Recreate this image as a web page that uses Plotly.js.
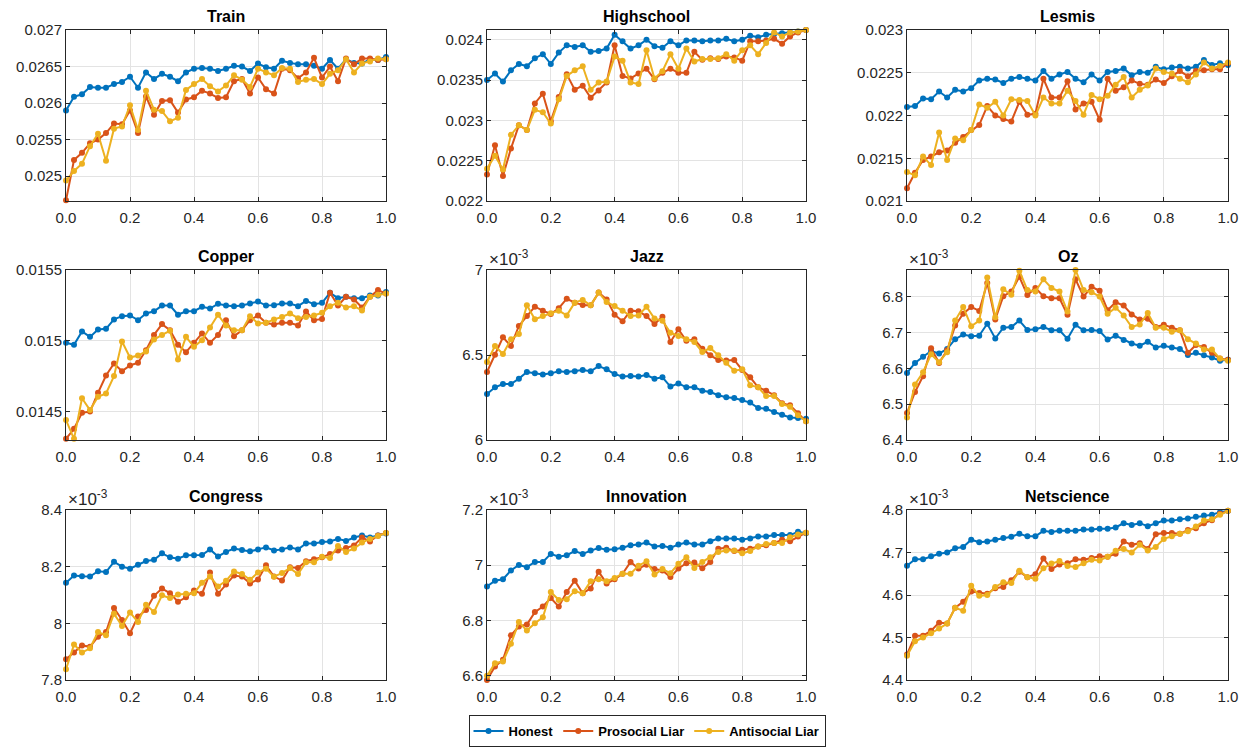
<!DOCTYPE html>
<html>
<head>
<meta charset="utf-8">
<script src="https://cdn.plot.ly/plotly-3.0.1.min.js"></script>
<style>
  html, body { margin: 0; padding: 0; background: #fff; }
  #chart { width: 1249px; height: 753px; }
</style>
</head>
<body>
<div id="chart"></div>
<script>
// shared x grid (fraction of liars)
var xGrid = [0,0.025,0.05,0.075,0.1,0.125,0.15,0.175,0.2,0.225,0.25,0.275,0.3,0.325,0.35,0.375,
  0.4,0.425,0.45,0.475,0.5,0.525,0.55,0.575,0.6,0.625,0.65,0.675,0.7,0.725,0.75,0.775,
  0.8,0.825,0.85,0.875,0.9,0.925,0.95,0.975,1];
var xTicks = [0, 0.2, 0.4, 0.6, 0.8, 1];
var seriesNames = ['Honest', 'Prosocial Liar', 'Antisocial Liar'];
var seriesColors = ['#0072BD', '#D95319', '#EDB120'];

// Train
var trainHonest = [0.02590,0.026087,0.02612,0.02622,0.02621,0.02621,0.02626,0.02629,0.02636,0.02621,0.02642,
  0.02633,0.02640,0.02636,0.02630,0.02642,0.02647,0.02648,0.02647,0.02644,0.02647,0.02651,0.02650,0.02644,
  0.02654,0.02649,0.02647,0.02658,0.02655,0.02653,0.02653,0.02651,0.02647,0.02659,0.02647,0.02660,0.02655,
  0.02654,0.02660,0.02659,0.02663];
var trainPro = [0.02467,0.02522,0.02532,0.02545,0.02550,0.02559,0.02572,0.02571,0.02590,0.02559,0.02609,
  0.02584,0.02603,0.02604,0.02587,0.02605,0.02608,0.02617,0.02613,0.02607,0.02608,0.02630,0.02633,0.02613,
  0.02635,0.02619,0.02613,0.02647,0.02645,0.02634,0.02642,0.02662,0.02635,0.02650,0.02630,0.02661,0.02653,
  0.02661,0.02661,0.02659,0.02660];
var trainAnti = [0.02494,0.02507,0.02517,0.02541,0.02558,0.02521,0.02565,0.02568,0.02597,0.02563,0.02617,
  0.02591,0.02589,0.02575,0.02580,0.02618,0.02626,0.02633,0.02623,0.02616,0.02624,0.02638,0.02632,0.02622,
  0.02647,0.02642,0.02638,0.02648,0.02647,0.02629,0.02632,0.02633,0.02626,0.02640,0.02645,0.02660,0.02642,
  0.02654,0.02657,0.02661,0.02660];
var trainTicks = [0.025, 0.0255, 0.026, 0.0265, 0.027];

// Highschool
var highHonest = [0.02350,0.02358,0.02348,0.02362,0.02370,0.02367,0.02377,0.02382,0.02370,0.02384,0.02393,
  0.02391,0.02393,0.02385,0.02386,0.02389,0.02406,0.02398,0.02389,0.02393,0.02400,0.02392,0.02390,0.02398,
  0.02393,0.02399,0.02399,0.02398,0.02399,0.02399,0.02401,0.02398,0.02400,0.02405,0.02403,0.02406,0.02407,
  0.02408,0.02409,0.02410,0.02412];
var highPro = [0.02233,0.02269,0.02231,0.02265,0.02294,0.02288,0.02321,0.02333,0.02299,0.02329,0.02357,
  0.02338,0.02343,0.02328,0.02337,0.02347,0.02393,0.02355,0.02352,0.02358,0.02364,0.02351,0.02359,0.02364,
  0.02359,0.02359,0.02385,0.02375,0.02377,0.02376,0.02379,0.02378,0.02374,0.02398,0.02398,0.02399,0.02401,
  0.02395,0.02404,0.02409,0.02412];
var highAnti = [0.02240,0.02256,0.02239,0.02282,0.02294,0.02288,0.02313,0.02310,0.02296,0.02326,0.02355,
  0.02362,0.02367,0.02338,0.02347,0.02348,0.02379,0.02374,0.02347,0.02345,0.02387,0.02352,0.02361,0.02382,
  0.02364,0.02389,0.02373,0.02376,0.02376,0.02377,0.02382,0.02374,0.02387,0.02393,0.02382,0.02396,0.02409,
  0.02404,0.02409,0.02410,0.02412];
var highTicks = [0.022, 0.0225, 0.023, 0.0235, 0.024];

// Lesmis
var lesHonest = [0.02210,0.02211,0.02220,0.02219,0.02228,0.02221,0.02230,0.02228,0.02232,0.02241,0.02243,
  0.02242,0.02238,0.02243,0.02245,0.02243,0.02241,0.02252,0.02243,0.02248,0.02251,0.02243,0.02239,0.02248,
  0.02241,0.02251,0.02252,0.02255,0.02247,0.02251,0.02250,0.02257,0.02254,0.02256,0.02257,0.02255,0.02257,
  0.02265,0.02259,0.02261,0.02259];
var lesPro = [0.02115,0.02133,0.02148,0.02152,0.02157,0.02159,0.02168,0.02175,0.02183,0.02189,0.02211,
  0.02200,0.02196,0.02193,0.02216,0.02201,0.02202,0.02243,0.02221,0.02221,0.02240,0.02207,0.02214,0.02216,
  0.02195,0.02243,0.02229,0.02233,0.02241,0.02237,0.02236,0.02242,0.02238,0.02246,0.02252,0.02246,0.02252,
  0.02253,0.02254,0.02254,0.02261];
var lesAnti = [0.02134,0.02130,0.02152,0.02142,0.02180,0.02148,0.02173,0.02171,0.02183,0.02213,0.02209,
  0.02216,0.02200,0.02219,0.02218,0.02217,0.02200,0.02221,0.02214,0.02214,0.02229,0.02217,0.02201,0.02224,
  0.02219,0.02223,0.02236,0.02245,0.02221,0.02230,0.02235,0.02255,0.02251,0.02249,0.02243,0.02239,0.02248,
  0.02262,0.02255,0.02258,0.02262];
var lesTicks = [0.021, 0.0215, 0.022, 0.0225, 0.023];

// Copper
var copHonest = [0.014986,0.014972,0.015066,0.015028,0.015080,0.015085,0.015151,0.015174,0.015179,0.015146,
  0.015193,0.015209,0.015249,0.015249,0.015184,0.015209,0.015209,0.015240,0.015228,0.015261,0.015249,
  0.015245,0.015249,0.015264,0.015278,0.015249,0.015252,0.015264,0.015264,0.015245,0.015282,0.015259,
  0.015268,0.015339,0.015301,0.015311,0.015301,0.015301,0.015320,0.015320,0.015344];
var copPro = [0.014308,0.014379,0.014492,0.014501,0.014633,0.014755,0.014840,0.014786,0.014826,0.014845,
  0.014934,0.015042,0.015118,0.015075,0.014972,0.014920,0.014986,0.015052,0.014986,0.015042,0.015146,
  0.015033,0.015075,0.015146,0.015179,0.015127,0.015115,0.015127,0.015127,0.015108,0.015207,0.015146,
  0.015155,0.015339,0.015249,0.015311,0.015292,0.015235,0.015311,0.015358,0.015334];
var copAnti = [0.014441,0.014308,0.014595,0.014511,0.014605,0.014628,0.014751,0.014995,0.014882,0.014896,
  0.014925,0.015009,0.015042,0.015071,0.014868,0.015028,0.014958,0.015005,0.015094,0.015184,0.015108,
  0.015075,0.015075,0.015174,0.015122,0.015127,0.015151,0.015169,0.015193,0.015160,0.015169,0.015179,
  0.015198,0.015245,0.015268,0.015235,0.015245,0.015214,0.015311,0.015325,0.015334];
var copTicks = [0.0145, 0.015, 0.0155];

// Jazz (x10^-3)
var jazzHonest = [6.271,6.310,6.329,6.329,6.361,6.400,6.392,6.386,6.392,6.404,6.400,6.404,6.412,6.404,6.435,
  6.416,6.388,6.373,6.376,6.373,6.382,6.361,6.369,6.314,6.333,6.310,6.310,6.290,6.282,6.263,6.251,6.247,
  6.235,6.220,6.188,6.184,6.165,6.149,6.133,6.129,6.125];
var jazzPro = [6.400,6.502,6.604,6.553,6.671,6.729,6.784,6.761,6.741,6.775,6.831,6.808,6.794,6.792,6.867,
  6.827,6.737,6.698,6.761,6.757,6.729,6.682,6.725,6.576,6.651,6.584,6.592,6.537,6.498,6.471,6.467,6.471,
  6.412,6.369,6.310,6.290,6.263,6.216,6.204,6.157,6.110];
var jazzAnti = [6.459,6.553,6.506,6.592,6.624,6.792,6.710,6.729,6.745,6.761,6.733,6.808,6.824,6.792,6.867,
  6.812,6.788,6.761,6.729,6.733,6.784,6.714,6.702,6.631,6.612,6.592,6.576,6.518,6.541,6.498,6.455,6.408,
  6.416,6.322,6.310,6.259,6.259,6.212,6.196,6.145,6.110];
var jazzTicks = [6, 6.5, 7];

// Oz (x10^-3)
var ozHonest = [6.587,6.615,6.632,6.648,6.641,6.654,6.681,6.694,6.689,6.691,6.724,6.683,6.713,6.715,6.733,
  6.707,6.709,6.715,6.706,6.706,6.682,6.721,6.706,6.707,6.704,6.680,6.691,6.679,6.669,6.663,6.674,6.658,
  6.663,6.658,6.654,6.637,6.643,6.636,6.630,6.621,6.624];
var ozPro = [6.475,6.534,6.578,6.656,6.615,6.650,6.719,6.752,6.771,6.760,6.838,6.736,6.801,6.814,6.855,
  6.804,6.824,6.801,6.795,6.795,6.749,6.848,6.800,6.827,6.816,6.762,6.784,6.775,6.750,6.736,6.738,6.715,
  6.721,6.713,6.706,6.643,6.665,6.659,6.643,6.627,6.624];
var ozAnti = [6.463,6.555,6.589,6.639,6.617,6.645,6.733,6.771,6.717,6.733,6.853,6.742,6.820,6.805,6.872,
  6.818,6.814,6.848,6.824,6.814,6.758,6.874,6.818,6.812,6.800,6.752,6.769,6.747,6.715,6.722,6.754,6.713,
  6.713,6.702,6.706,6.681,6.669,6.652,6.652,6.627,6.621];
var ozTicks = [6.4, 6.5, 6.6, 6.7, 6.8];

// Congress (x10^-3)
var conHonest = [8.143,8.169,8.166,8.165,8.184,8.181,8.217,8.200,8.193,8.207,8.220,8.224,8.247,8.233,8.228,
  8.240,8.240,8.241,8.261,8.236,8.252,8.264,8.259,8.254,8.261,8.268,8.257,8.261,8.268,8.261,8.282,8.282,
  8.287,8.289,8.298,8.291,8.303,8.310,8.303,8.310,8.317];
var conPro = [7.873,7.897,7.922,7.917,7.953,7.969,8.054,8.012,7.965,8.024,8.047,8.097,8.123,8.106,8.076,
  8.092,8.116,8.104,8.179,8.104,8.137,8.169,8.165,8.141,8.155,8.205,8.165,8.151,8.198,8.195,8.219,8.226,
  8.233,8.245,8.257,8.266,8.275,8.303,8.289,8.310,8.319];
var conAnti = [7.838,7.925,7.897,7.912,7.969,7.958,8.034,7.991,8.038,8.005,8.066,8.040,8.099,8.089,8.102,
  8.104,8.106,8.143,8.165,8.130,8.150,8.183,8.174,8.154,8.179,8.193,8.164,8.178,8.195,8.174,8.216,8.216,
  8.235,8.231,8.273,8.252,8.264,8.285,8.298,8.308,8.319];
var conTicks = [7.8, 8, 8.2, 8.4];

// Innovation (x10^-3)
var innHonest = [6.923,6.944,6.949,6.981,7.001,6.993,7.012,7.012,7.041,7.031,7.036,7.051,7.041,7.053,7.062,
  7.056,7.058,7.063,7.072,7.075,7.082,7.068,7.070,7.063,7.075,7.082,7.075,7.075,7.087,7.097,7.097,7.097,
  7.092,7.097,7.104,7.104,7.109,7.109,7.109,7.121,7.116];
var innPro = [6.584,6.633,6.657,6.746,6.778,6.785,6.830,6.850,6.881,6.850,6.903,6.944,6.898,6.916,6.976,
  6.934,6.949,6.969,7.012,6.988,7.002,6.986,6.981,6.957,6.988,7.007,7.010,6.989,7.012,7.060,7.063,7.051,
  7.056,7.060,7.068,7.072,7.080,7.092,7.087,7.104,7.118];
var innAnti = [6.599,6.645,6.651,6.715,6.794,6.763,6.790,6.811,6.903,6.874,6.877,6.906,6.898,6.942,6.949,
  6.942,6.954,6.969,6.969,6.998,7.014,6.966,6.986,6.971,7.005,7.029,6.990,7.012,7.029,7.048,7.053,7.053,
  7.043,7.051,7.068,7.077,7.080,7.080,7.101,7.111,7.118];
var innTicks = [6.6, 6.8, 7, 7.2];

// Netscience (x10^-3)
var netHonest = [4.669,4.684,4.684,4.691,4.697,4.700,4.710,4.713,4.730,4.724,4.726,4.730,4.734,4.737,4.744,
  4.738,4.738,4.751,4.748,4.751,4.751,4.751,4.754,4.754,4.756,4.756,4.759,4.769,4.765,4.769,4.762,4.769,
  4.775,4.775,4.778,4.780,4.784,4.787,4.789,4.795,4.798];
var netPro = [4.460,4.504,4.504,4.516,4.535,4.533,4.570,4.584,4.608,4.605,4.603,4.616,4.619,4.635,4.655,
  4.642,4.649,4.686,4.661,4.672,4.675,4.684,4.683,4.687,4.691,4.690,4.697,4.726,4.718,4.722,4.708,4.743,
  4.746,4.746,4.744,4.753,4.757,4.769,4.776,4.791,4.798];
var netAnti = [4.457,4.491,4.500,4.510,4.521,4.533,4.570,4.563,4.622,4.598,4.600,4.619,4.630,4.628,4.657,
  4.642,4.638,4.663,4.674,4.680,4.668,4.666,4.675,4.683,4.681,4.690,4.704,4.708,4.700,4.718,4.705,4.713,
  4.732,4.738,4.744,4.750,4.761,4.775,4.778,4.789,4.798];
var netTicks = [4.4, 4.5, 4.6, 4.7, 4.8];

var panels = [
  {title: 'Train', series: [trainHonest, trainPro, trainAnti], ticks: trainTicks, range: [0.02466, 0.027], exp: false},
  {title: 'Highschool', series: [highHonest, highPro, highAnti], ticks: highTicks, range: [0.022, 0.02412], exp: false},
  {title: 'Lesmis', series: [lesHonest, lesPro, lesAnti], ticks: lesTicks, range: [0.021, 0.023], exp: false},
  {title: 'Copper', series: [copHonest, copPro, copAnti], ticks: copTicks, range: [0.0143, 0.0155], exp: false},
  {title: 'Jazz', series: [jazzHonest, jazzPro, jazzAnti], ticks: jazzTicks, range: [6, 7], exp: true},
  {title: 'Oz', series: [ozHonest, ozPro, ozAnti], ticks: ozTicks, range: [6.4, 6.874], exp: true},
  {title: 'Congress', series: [conHonest, conPro, conAnti], ticks: conTicks, range: [7.8, 8.4], exp: true},
  {title: 'Innovation', series: [innHonest, innPro, innAnti], ticks: innTicks, range: [6.584, 7.2], exp: true},
  {title: 'Netscience', series: [netHonest, netPro, netAnti], ticks: netTicks, range: [4.4, 4.8], exp: true}
];

// plot-area boxes in pixels (left, right) and (top, bottom)
var W = 1249, H = 753;
var cols = [[66, 386], [487, 806], [907, 1228]];
var rows = [[30, 201], [270, 440], [510, 680]];
var FONT = 'Liberation Sans, Arial, sans-serif';

function makeAxis(dom, extra) {
  var ax = {
    domain: dom,
    showline: true, mirror: 'ticks', linecolor: '#262626', linewidth: 1,
    ticks: 'inside', ticklen: 4, tickcolor: '#262626', tickwidth: 1,
    showgrid: true, gridcolor: '#e3e3e3', gridwidth: 1, zeroline: false,
    tickfont: {family: FONT, size: 15, color: '#262626'}
  };
  for (var k in extra) ax[k] = extra[k];
  return ax;
}

function makeGrid(divId) {
  var data = [];
  var layout = {
    width: W, height: H,
    margin: {l: 0, r: 0, t: 0, b: 0},
    paper_bgcolor: '#fff', plot_bgcolor: '#fff',
    showlegend: true,
    legend: {
      orientation: 'h', x: 647 / W, xanchor: 'center', y: 1 - 731 / H, yanchor: 'middle',
      bordercolor: '#262626', borderwidth: 1, bgcolor: '#fff',
      font: {family: FONT, size: 13, color: '#000', weight: 'bold'},
      itemwidth: 30, tracegroupgap: 0
    },
    annotations: []
  };

  panels.forEach(function (p, i) {
    var c = cols[i % 3], r = rows[Math.floor(i / 3)];
    var n = i === 0 ? '' : String(i + 1);
    var xd = [c[0] / W, c[1] / W];
    var yd = [1 - r[1] / H, 1 - r[0] / H];

    layout['xaxis' + n] = makeAxis(xd, {
      anchor: 'y' + n, range: [0, 1], tickvals: xTicks, tickformat: '.1f',
      ticklabelstandoff: 3
    });
    layout['yaxis' + n] = makeAxis(yd, {
      anchor: 'x' + n, range: p.range, tickvals: p.ticks,
      ticktext: p.ticks.map(function (v) { return String(v); })
    });

    p.series.forEach(function (ys, s) {
      data.push({
        x: xGrid, y: ys, xaxis: 'x' + n, yaxis: 'y' + n,
        type: 'scatter', mode: 'lines+markers', name: seriesNames[s],
        legendgroup: seriesNames[s], showlegend: i === 0,
        cliponaxis: false,
        line: {color: seriesColors[s], width: 2},
        marker: {color: seriesColors[s], size: 6}
      });
    });

    layout.annotations.push({
      xref: 'paper', yref: 'paper', x: (xd[0] + xd[1]) / 2, y: yd[1],
      xanchor: 'center', yanchor: 'bottom', yshift: 3, showarrow: false,
      text: '<b>' + p.title + '</b>',
      font: {family: FONT, size: 16, color: '#000'}
    });
    if (p.exp) {
      layout.annotations.push({
        xref: 'paper', yref: 'paper', x: xd[0], y: yd[1],
        xanchor: 'left', yanchor: 'bottom', yshift: -1, showarrow: false,
        text: '×10<sup>-3</sup>',
        font: {family: FONT, size: 17, color: '#262626'}
      });
    }
  });

  Plotly.newPlot(divId, data, layout, {displayModeBar: false});
}

makeGrid('chart');
</script>
</body>
</html>
